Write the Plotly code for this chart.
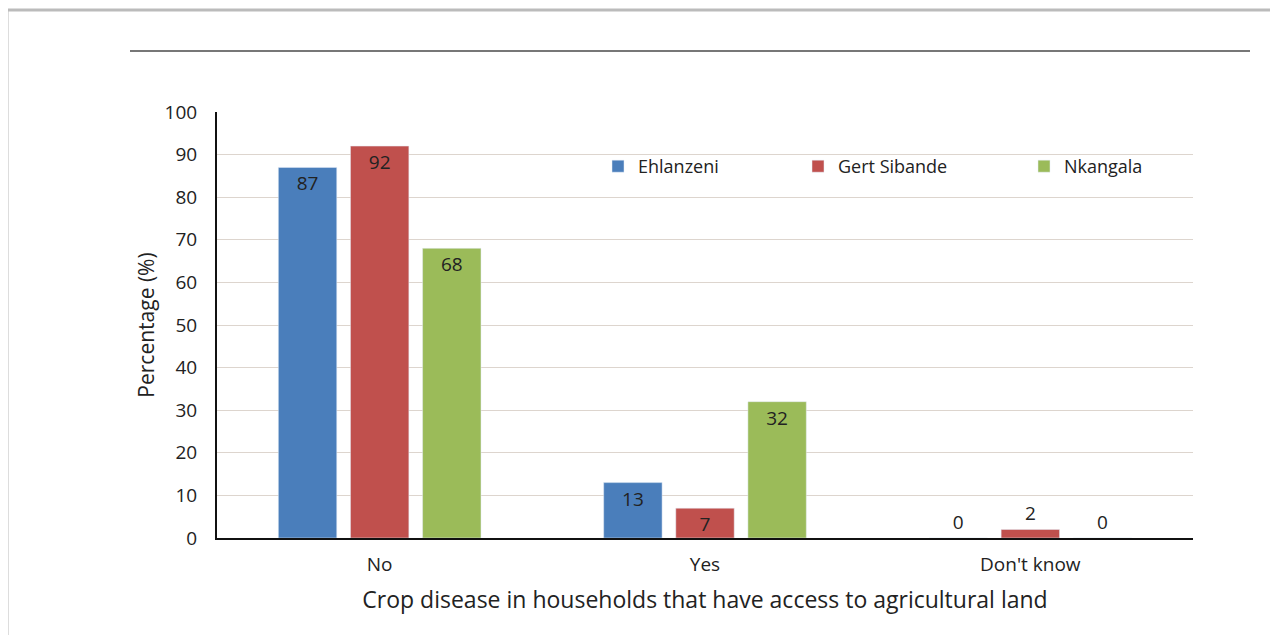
import plotly.graph_objects as go

categories = ["No", "Yes", "Don't know"]
ehlanzeni = [87, 13, 0]
gert_sibande = [92, 7, 2]
nkangala = [68, 32, 0]
series_names = ["Ehlanzeni", "Gert Sibande", "Nkangala"]
colors = ["#4A7EBB", "#C0504D", "#9BBB59"]

OFF = 8  # page body margin
W, H = 1278, 635
L, R, T, B = 217 - OFF, 1193 - OFF, 112 - OFF, 538 - OFF
pw, ph = R - L, B - T

def px_x(x):
    return (x - OFF - L) / pw

def px_y(y):
    return (B - (y - OFF)) / ph

legend_ids = ["legend", "legend2", "legend3"]
legend_left_px = [598, 798, 1024]  # screen px of legend boxes

fig = go.Figure()
for name, vals, col, lid in zip(series_names, [ehlanzeni, gert_sibande, nkangala], colors, legend_ids):
    pos = ["inside" if v >= 5 else "outside" for v in vals]
    fig.add_trace(go.Bar(
        x=categories, y=vals, name=name, marker_color=col, legend=lid,
        text=[str(v) for v in vals], textposition=pos, textangle=0,
        insidetextanchor="end", constraintext="none",
        textfont=dict(size=19, color="#222222"),
        outsidetextfont=dict(size=19, color="#222222"),
        cliponaxis=False,
    ))

font_family = "Open Sans, Liberation Sans, Arial, sans-serif"
legends = {}
for lid, lx in zip(legend_ids, legend_left_px):
    legends[lid] = dict(orientation="h", xref="container", yref="container",
                        x=(lx - OFF) / W, y=1 - (148 - OFF) / H,
                        xanchor="left", yanchor="top",
                        font=dict(size=18), itemwidth=30,
                        bgcolor="rgba(0,0,0,0)")

fig.update_layout(
    width=W, height=H,
    margin=dict(l=L, r=W - R, t=T, b=H - B, autoexpand=False),
    paper_bgcolor="white", plot_bgcolor="white",
    font=dict(family=font_family, size=19, color="#222222"),
    barmode="group", bargap=0.335, bargroupgap=0.19,
    showlegend=True,
    xaxis=dict(showline=True, linecolor="#111111", linewidth=2,
               ticks="", showgrid=False, tickfont=dict(size=19),
               ticklabelstandoff=8,
               title=dict(text="Crop disease in households that have access to agricultural land",
                          font=dict(size=23), standoff=16)),
    yaxis=dict(range=[0, 100], dtick=10, showline=True, linecolor="#111111",
               linewidth=2, showgrid=True, gridcolor="#DDD5CE", gridwidth=1,
               zeroline=False, tickfont=dict(size=19), ticklabelstandoff=14,
               title=dict(text="Percentage (%)", font=dict(size=21), standoff=4)),
    shapes=[
        dict(type="line", xref="paper", yref="paper",
             x0=px_x(7), x1=px_x(1290), y0=px_y(10), y1=px_y(10),
             line=dict(color="#BBBBBB", width=3)),
        dict(type="line", xref="paper", yref="paper",
             x0=px_x(7), x1=px_x(7), y0=px_y(10), y1=px_y(650),
             line=dict(color="#BBBBBB", width=3)),
        dict(type="line", xref="paper", yref="paper",
             x0=px_x(130), x1=px_x(1250), y0=px_y(51), y1=px_y(51),
             line=dict(color="#777777", width=2)),
    ],
    **legends,
)

fig.write_html("out.html")
